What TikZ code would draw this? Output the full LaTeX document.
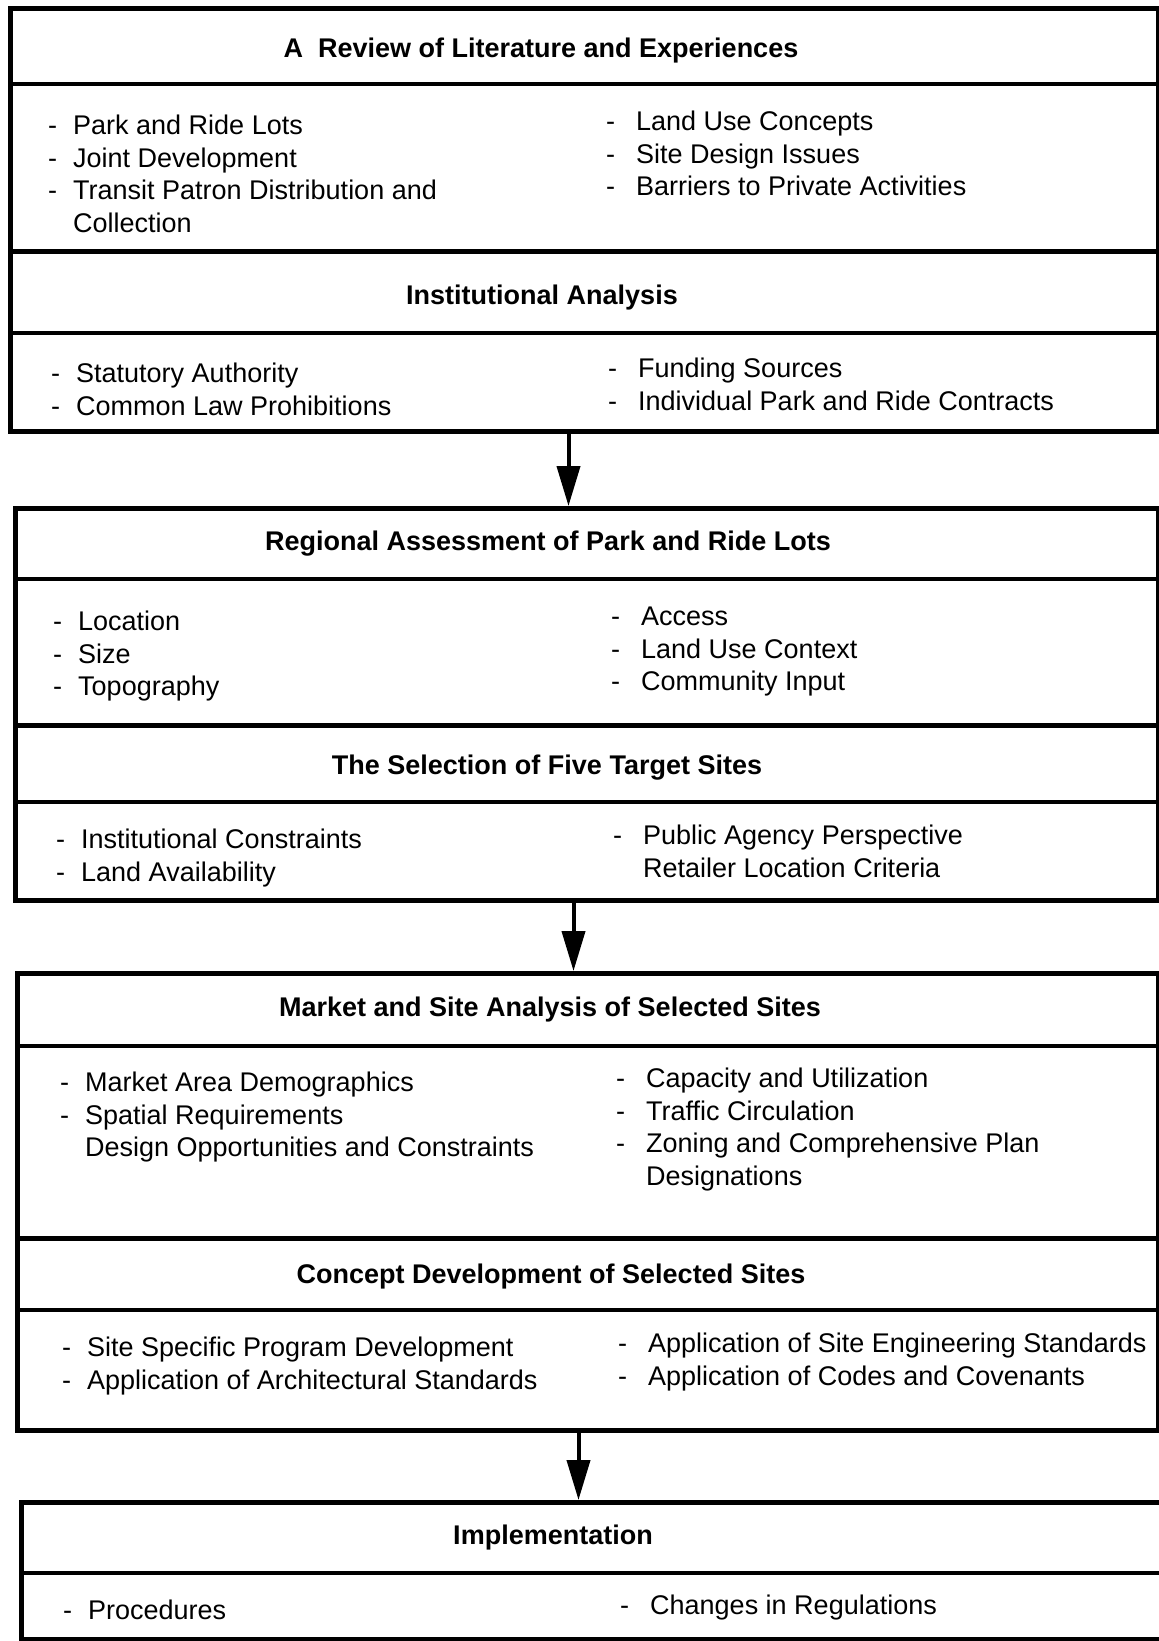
\documentclass[tikz,border=0pt]{standalone}
\usepackage{fontspec}
\setmainfont{Liberation Sans}
\usetikzlibrary{arrows.meta}

% dash bullets for the two columns, and the same indent without a dash
\newcommand\lbul{\strut\makebox[25pt][l]{-}}
\newcommand\rbul{\strut\makebox[30pt][l]{-}}
\newcommand\lgap{\strut\hspace*{25pt}}
\newcommand\rgap{\strut\hspace*{30pt}}

\tikzset{
  block/.style={draw, rectangle, line width=5pt, inner sep=0pt, anchor=north west},
  hrule/.style={line width=3.5pt},
  mrule/.style={line width=5pt},
  head/.style={anchor=base, inner sep=0pt, font=\fontsize{27}{32.5}\selectfont\bfseries},
  list/.style={anchor=north west, align=left, inner sep=0pt, font=\fontsize{27}{32.5}\selectfont},
  flow/.style={line width=4pt, -{Triangle[length=40pt,width=23pt]}}
}

\begin{document}
\begin{tikzpicture}[x=1pt, y=-1pt]
    \useasboundingbox (0,0) rectangle (1159,1641);
    \clip (0,0) rectangle (1159,1641);

    % review + institutional analysis
    \node[block, minimum width=1148pt, minimum height=423pt] (lit) at (8,6) {};
    \draw[hrule] ([yshift=-78pt]lit.north west) -- ([yshift=-78pt]lit.north east);
    \draw[mrule] ([yshift=-245pt]lit.north west) -- ([yshift=-245pt]lit.north east);
    \draw[hrule] ([yshift=-327pt]lit.north west) -- ([yshift=-327pt]lit.north east);
    \node[head] (litHead) at (541,57) {A\ \ Review of Literature and Experiences};
    \node[list] (litL) at (48,112) {\lbul Park and Ride Lots\\ \lbul Joint Development\\
        \lbul Transit Patron Distribution and\\ \lgap Collection};
    \node[list] (litR) at (606,108) {\rbul Land Use Concepts\\ \rbul Site Design Issues\\
        \rbul Barriers to Private Activities};
    \node[head] (instHead) at (542,304) {Institutional Analysis};
    \node[list] (instL) at (51,360) {\lbul Statutory Authority\\ \lbul Common Law Prohibitions};
    \node[list] (instR) at (608,355) {\rbul Funding Sources\\ \rbul Individual Park and Ride Contracts};

    % regional assessment + selection
    \node[block, minimum width=1143pt, minimum height=392pt] (reg) at (13,506) {};
    \draw[hrule] ([yshift=-73pt]reg.north west) -- ([yshift=-73pt]reg.north east);
    \draw[mrule] ([yshift=-219pt]reg.north west) -- ([yshift=-219pt]reg.north east);
    \draw[hrule] ([yshift=-296pt]reg.north west) -- ([yshift=-296pt]reg.north east);
    \node[head] (regHead) at (548,550) {Regional Assessment of Park and Ride Lots};
    \node[list] (regL) at (53,608) {\lbul Location\\ \lbul Size\\ \lbul Topography};
    \node[list] (regR) at (611,603) {\rbul Access\\ \rbul Land Use Context\\ \rbul Community Input};
    \node[head] (selHead) at (547,774) {The Selection of Five Target Sites};
    \node[list] (selL) at (56,826) {\lbul Institutional Constraints\\ \lbul Land Availability};
    \node[list] (selR) at (613,822) {\rbul Public Agency Perspective\\ \rgap Retailer Location Criteria};

    % market and site analysis + concept development
    \node[block, minimum width=1141pt, minimum height=457pt] (mkt) at (15,971) {};
    \draw[hrule] ([yshift=-75pt]mkt.north west) -- ([yshift=-75pt]mkt.north east);
    \draw[mrule] ([yshift=-267pt]mkt.north west) -- ([yshift=-267pt]mkt.north east);
    \draw[hrule] ([yshift=-339pt]mkt.north west) -- ([yshift=-339pt]mkt.north east);
    \node[head] (mktHead) at (550,1016) {Market and Site Analysis of Selected Sites};
    \node[list] (mktL) at (60,1069) {\lbul Market Area Demographics\\ \lbul Spatial Requirements\\
        \lgap Design Opportunities and Constraints};
    \node[list] (mktR) at (616,1065) {\rbul Capacity and Utilization\\ \rbul Traffic Circulation\\
        \rbul Zoning and Comprehensive Plan\\ \rgap Designations};
    \node[head] (cptHead) at (551,1283) {Concept Development of Selected Sites};
    \node[list] (cptL) at (62,1334) {\lbul Site Specific Program Development\\
        \lbul Application of Architectural Standards};
    \node[list] (cptR) at (618,1330) {\rbul Application of Site Engineering Standards\\
        \rbul Application of Codes and Covenants};

    % implementation
    \node[block, minimum width=1144pt, minimum height=137pt] (imp) at (19,1500) {};
    \draw[hrule] ([yshift=-73pt]imp.north west) -- ([yshift=-73pt]imp.north east);
    \node[head] (impHead) at (553,1544) {Implementation};
    \node[list] (impL) at (63,1597) {\lbul Procedures};
    \node[list] (impR) at (620,1592) {\rbul Changes in Regulations};

    \draw[flow] ([xshift=-16pt]lit.south) -- ([xshift=-16pt]lit.south |- reg.north);
    \draw[flow] ([xshift=-13.5pt]reg.south) -- ([xshift=-13.5pt]reg.south |- mkt.north);
    \draw[flow] ([xshift=-9.5pt]mkt.south) -- ([xshift=-9.5pt]mkt.south |- imp.north);
\end{tikzpicture}
\end{document}
